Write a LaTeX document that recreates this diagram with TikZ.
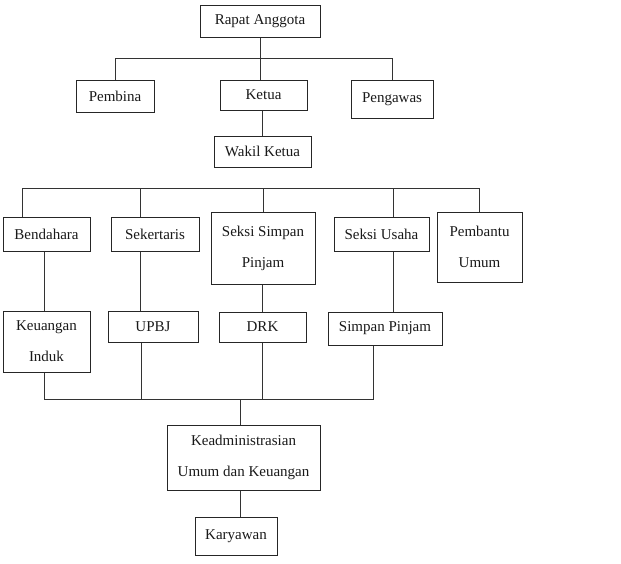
\documentclass[tikz,border=0pt]{standalone}
\usepackage{fontspec}
\setmainfont{Liberation Serif}
\begin{document}
\begin{tikzpicture}[x=1pt,y=-1pt,
  box/.style={draw=black!85, line width=1pt, inner sep=0pt, align=center,
    font=\fontsize{15}{31}\selectfont, text=black!90},
  conn/.style={draw=black!80, line width=0.9pt}]
\useasboundingbox (0,0) rectangle (621,563);
\node[box, minimum width=120, minimum height=32] (ra) at (260,21) {Rapat Anggota};
\node[box, minimum width=78, minimum height=32] (pembina) at (115,96) {Pembina};
\node[box, minimum width=87, minimum height=30] (ketua) at (263.5,95) {Ketua};
\node[box, minimum width=82, minimum height=38] (pengawas) at (392,99) {Pengawas};
\node[box, minimum width=97, minimum height=31] (wakil) at (262.5,151.5) {Wakil Ketua};
\node[box, minimum width=87, minimum height=34] (bend) at (46.5,234) {Bendahara};
\node[box, minimum width=88, minimum height=34] (sek) at (155,234) {Sekertaris};
\node[box, minimum width=104, minimum height=72] (ssp) at (263,248) {Seksi Simpan\\Pinjam};
\node[box, minimum width=95, minimum height=34] (su) at (381.5,234) {Seksi Usaha};
\node[box, minimum width=85, minimum height=70] (pu) at (479.5,247) {Pembantu\\Umum};
\node[box, minimum width=87, minimum height=61] (keu) at (46.5,341.5) {Keuangan\\Induk};
\node[box, minimum width=90, minimum height=31] (upbj) at (153,326.5) {UPBJ};
\node[box, minimum width=87, minimum height=30] (drk) at (262.5,327) {DRK};
\node[box, minimum width=114, minimum height=33] (sp) at (385,328.5) {Simpan Pinjam};
\node[box, minimum width=153, minimum height=65] (kad) at (243.5,457.5) {Keadministrasian\\Umum dan Keuangan};
\node[box, minimum width=82, minimum height=38] (kar) at (236,536) {Karyawan};
% top level
\draw[conn] (ra.south) -- (ra.south |- ketua.north);
\draw[conn] (pembina.north) -- ++(0,-21) -| (pengawas.north);
\draw[conn] ([xshift=-1.5]ketua.south) -- ([xshift=-1.5]ketua.south |- wakil.north);
% second bus
\draw[conn] ([xshift=-24.5]bend.north) -- ++(0,-28) -| (pu.north);
\draw[conn] ([xshift=-15]sek.north) -- ++(0,-28);
\draw[conn] (ssp.north) -- ++(0,-23);
\draw[conn] ([xshift=11.5]su.north) -- ++(0,-28);
% verticals to third row
\draw[conn] ([xshift=-2.5]bend.south) -- ([xshift=-2.5]bend.south |- keu.north);
\draw[conn] ([xshift=-15]sek.south) -- ([xshift=-15]sek.south |- upbj.north);
\draw[conn] ([xshift=-1]ssp.south) -- ([xshift=-1]ssp.south |- drk.north);
\draw[conn] ([xshift=11.5]su.south) -- ([xshift=11.5]su.south |- sp.north);
% bottom bus
\draw[conn] ([xshift=-2.5]keu.south) -- ++(0,27) -| ([xshift=-12]sp.south);
\draw[conn] ([xshift=-12]upbj.south) -- ([xshift=-12]upbj.south |- 0,399);
\draw[conn] (drk.south) -- (drk.south |- 0,399);
\draw[conn] ([xshift=-3.5]kad.north) -- ++(0,-26);
\draw[conn] ([xshift=-3.5]kad.south) -- ([xshift=-3.5]kad.south |- kar.north);
\end{tikzpicture}
\end{document}
